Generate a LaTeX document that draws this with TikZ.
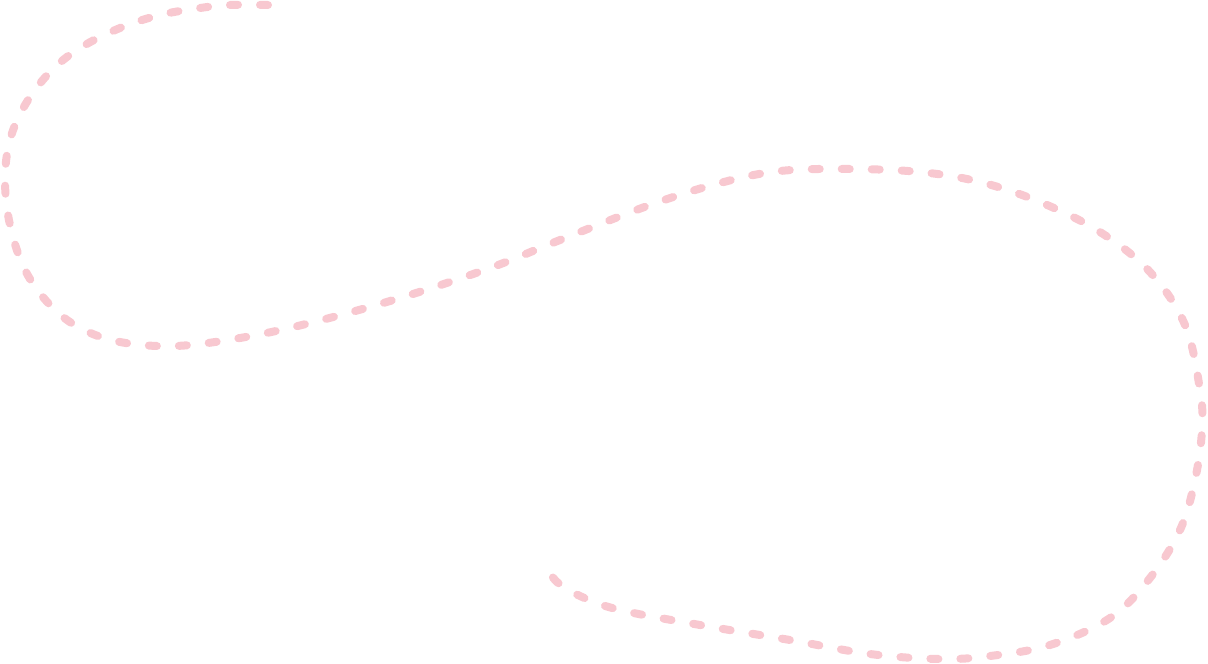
\documentclass[tikz,border=0pt]{standalone}
\begin{document}
\begin{tikzpicture}[x=1pt,y=-1pt]
\definecolor{pinkdash}{RGB}{248,200,208}
\useasboundingbox (0,0) rectangle (1208,664);
\tikzset{loopline/.style={draw=pinkdash,line width=8pt,line cap=round,dash pattern=on 8pt off 22pt}}
\draw[loopline] plot[smooth,tension=0.6] coordinates {(268,5) (230,5) (200,8) (160,15) (120,28) (80,48) (50,72) (25,105) (10,140) (5,180) (10,225) (25,270) (50,305) (80,328) (120,342) (175,346) (240,338) (310,323) (400,298) (490,268) (560,240) (650,205) (720,183) (780,171) (850,169) (920,172) (980,182) (1040,202) (1100,232) (1150,272) (1185,325) (1200,390) (1202,430) (1195,480) (1180,530) (1150,578) (1110,618) (1050,645) (990,656) (940,659) (870,654) (790,640) (700,625) (620,610) (580,596) (555,580) (543,558)};
\end{tikzpicture}
\end{document}
